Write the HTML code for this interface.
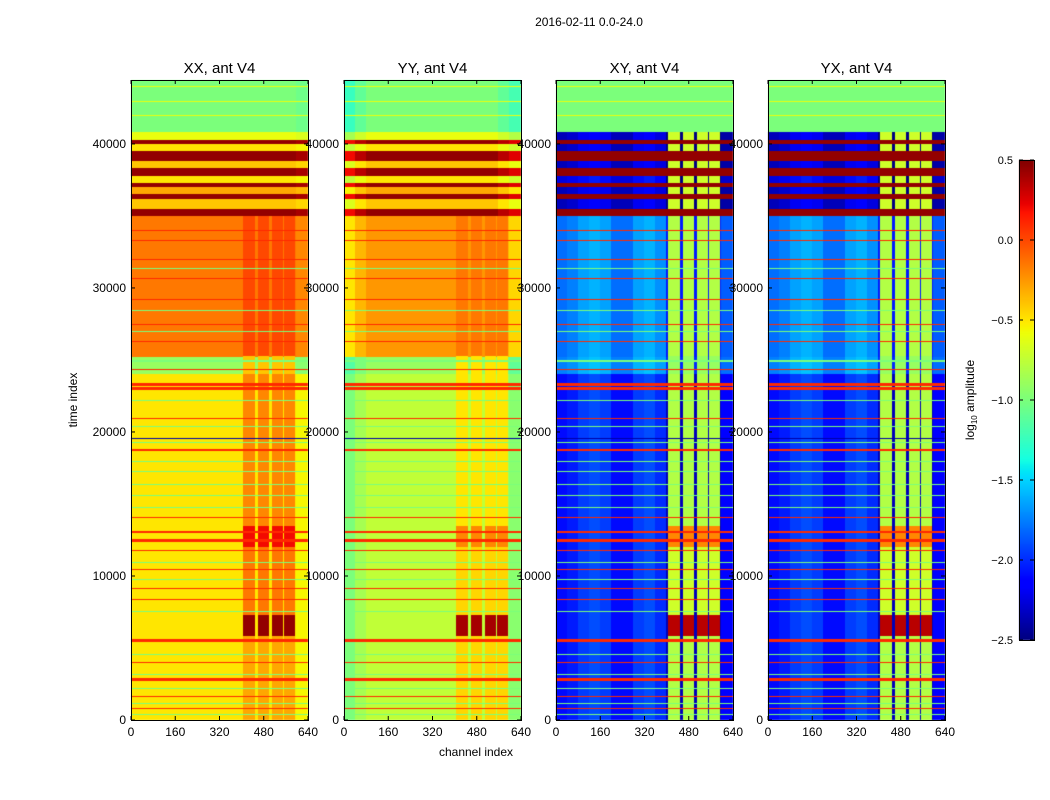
<!DOCTYPE html>
<html><head><meta charset="utf-8"><style>
body{margin:0;background:#fff;width:1050px;height:800px;overflow:hidden;font-family:"Liberation Sans",sans-serif}
#wrap{position:relative;width:1050px;height:800px}
canvas,svg{position:absolute;left:0;top:0}
</style></head><body>
<div id="wrap">
<canvas id="cv" width="1050" height="800"></canvas>
<svg id="sv" width="1050" height="800"></svg>
</div>
<script>
// time segments (thousands of time index)
const segT0 = [0,24.0,25.2,35.0,35.5,36.2,36.5,37.0,37.3,37.8,38.3,38.8,39.5,40.0,40.3,40.8];
const xxSeg = [-0.5,-0.9,-0.15,0.45,-0.4,0.45,-0.3,0.45,-0.5,0.45,-0.4,0.45,-0.5,0.45,-0.6,-1.0];
const yySeg = [-0.75,-0.9,-0.25,0.45,-0.4,0.45,-0.3,0.45,-0.5,0.45,-0.4,0.45,-0.5,0.45,-0.6,-1.0];
const xySeg = [-2.05,-1.7,-1.75,0.45,-2.3,0.45,-2.3,0.45,-2.2,0.45,-2.3,0.45,-2.3,0.45,-2.3,-1.0];
const yxSeg = [-2.05,-1.7,-1.75,0.45,-2.3,0.45,-2.3,0.45,-2.2,0.45,-2.3,0.45,-2.3,0.45,-2.3,-1.0];
// RFI stripe channels
const stripeC0 = [405,458,508,557];
const stripeC1 = [452,502,548,597];
const stripeT0 = [0,5.8,7.3,12.0,13.5,24.0,25.3,35.0,35.5,40.8];
const xxStripe = [-0.3,0.45,-0.15,0.2,-0.2,-0.4,0.0,null,null,null];
const yyStripe = [-0.45,0.4,-0.45,-0.2,-0.5,-0.5,-0.15,null,null,null];
const xyStripe = [-0.8,0.35,-0.7,-0.2,-0.8,-0.9,-0.8,null,-0.7,null];
const yxStripe = [-0.8,0.35,-0.7,-0.2,-0.8,-0.9,-0.8,null,-0.7,null];
// channel shape (bins of 40 channels)
const xxCol = [0,0,0,0,0,0,0,0,0,0,0,0,0,0,0,-0.05];
const yyCol = [-0.25,-0.1,0,0,0,0,0,0,0,0,0,0,0,0,-0.1,-0.2];
const xyCol = [-0.05,0,0.1,0.15,0.1,-0.05,-0.05,0.1,0.15,0.05,-0.3,-0.3,-0.3,-0.3,-0.3,-0.1];
// horizontal lines (time in thousands, value)
const lineT = [0.8,1.7,2.9,4.0,5.6,8.4,9.2,10.5,11.8,12.6,13.1,14.1,18.8,21.0,23.1,23.4,24.4,26.3,27.5,29.2,30.7,32.0,33.3,34.0,
 0.4,1.2,2.2,3.2,4.6,7.6,9.8,11.0,14.8,15.6,16.4,17.3,18.0,19.3,20.4,22.2,25.0,27.0,28.5,31.4,42.0,43.0,44.0,19.6];
const lineV = [0.1,0.1,0.1,0.1,0.1,0.1,0.1,0.1,0.1,0.1,0.1,0.1,0.1,0.1,0.1,0.1,0.1,0.1,0.1,0.1,0.1,0.1,0.1,0.1,
 -1.0,-1.0,-1.0,-1.0,-1.0,-1.0,-1.0,-1.0,-1.0,-1.0,-1.0,-1.0,-1.0,-1.0,-1.0,-1.0,-1.0,-1.0,-1.0,-1.0,-0.6,-0.6,-0.6,-2.4];
const lineH = [1,1,3,1,3,1,1,1,1,3,2,1,2,1,3,3,1,1,1,1,1,1,1,1,
 1,1,1,1,1,1,1,1,1,1,1,1,1,1,1,1,2,1,1,1,1,1,1,1];
const titles = ["XX, ant V4","YY, ant V4","XY, ant V4","YX, ant V4"];
const xTicks = [0,160,320,480,640];
const yTicks = [0,10000,20000,30000,40000];
const cbTicks = [0.5,0.0,-0.5,-1.0,-1.5,-2.0,-2.5];

const panelX = [131,344,556,768], PW=177, PT=80, PH=640, TMAX=44.44, VMIN=-2.5, VMAX=0.5;
const panels = [[xxSeg,xxStripe,xxCol],[yySeg,yyStripe,yyCol],[xySeg,xyStripe,xyCol],[yxSeg,yxStripe,xyCol]];
const yScale = t => PT+PH - t/TMAX*PH;
const xScale = (p,c) => panelX[p] + c/640*PW;
function interp(pts,x){for(let i=1;i<pts.length;i++){if(x<=pts[i][0]){const a=pts[i-1],b=pts[i];return a[1]+(b[1]-a[1])*(x-a[0])/(b[0]-a[0]);}}return pts[pts.length-1][1];}
function jet(v){let f=Math.max(0,Math.min(1,(v-VMIN)/(VMAX-VMIN)));
 const r=interp([[0,0],[0.35,0],[0.66,1],[0.89,1],[1,0.5]],f),g=interp([[0,0],[0.125,0],[0.375,1],[0.64,1],[0.91,0],[1,0]],f),b=interp([[0,0.5],[0.11,1],[0.34,1],[0.65,0],[1,0]],f);
 return `rgb(${Math.round(r*255)},${Math.round(g*255)},${Math.round(b*255)})`;}
function segIdx(arr,t){let k=0;for(let i=0;i<arr.length;i++)if(t>=arr[i])k=i;return k;}
const ctx=document.getElementById('cv').getContext('2d');
for(let p=0;p<4;p++){
 const [seg,str,col]=panels[p];
 for(let py=0;py<PH;py++){
  const t=(PH-py-0.5)/PH*TMAX;
  const base=seg[segIdx(segT0,t)];
  const si=segIdx(stripeT0,t);
  const sv=str[si];
  for(let c=0;c<640;c+=5){
   let v=base;
   const cb=col[Math.floor(c/40)];
   if(p>=2){ if(base<-1.5) v+=cb; } else v+=cb;
   if(sv!==null){for(let s=0;s<stripeC0.length;s++){if(c+2.5>=stripeC0[s]&&c+2.5<stripeC1[s]){v=(si===8)?Math.max(base,sv):sv;}}}
   ctx.fillStyle=jet(v);
   const x0=xScale(p,c),x1=xScale(p,c+5);
   ctx.fillRect(Math.floor(x0),PT+py,Math.ceil(x1)-Math.floor(x0),1);
  }
 }
 for(let i=0;i<lineT.length;i++){ctx.fillStyle=jet(lineV[i]);ctx.fillRect(panelX[p],Math.round(yScale(lineT[i])),PW,lineH[i]);}
}
// colorbar
for(let y=0;y<480;y++){ctx.fillStyle=jet(VMAX-(y+0.5)/480*(VMAX-VMIN));ctx.fillRect(1019,160+y,15,1);}

const sv=document.getElementById('sv');const NS='http://www.w3.org/2000/svg';
function mk(tag,attrs,txt){const e=document.createElementNS(NS,tag);for(const k in attrs)e.setAttribute(k,attrs[k]);if(txt!==undefined)e.textContent=txt;sv.appendChild(e);return e;}
let e;
e=mk('text',{x:589,y:26,'font-size':12,'text-anchor':'middle'},'2016-02-11 0.0-24.0');


for(let p=0;p<4;p++){
 const x0=panelX[p];
 e=mk('rect',{x:x0+0.5,y:PT+0.5,width:PW,height:PH,fill:'none',stroke:'#000','stroke-width':1});
 
 
 e=mk('text',{x:x0+PW/2,y:73,'font-size':15,'text-anchor':'middle'},titles[p]);
 
 
 xTicks.forEach(v=>{const x=xScale(p,v);
  mk('line',{x1:x,x2:x,y1:PT+PH,y2:PT+PH-4,stroke:'#000'});mk('line',{x1:x,x2:x,y1:PT,y2:PT+4,stroke:'#000'});
  e=mk('text',{x:x,y:736,'font-size':12,'text-anchor':'middle'},String(v));
  
  });
 yTicks.forEach(v=>{const y=yScale(v/1000);
  mk('line',{x1:x0,x2:x0+4,y1:y,y2:y,stroke:'#000'});mk('line',{x1:x0+PW,x2:x0+PW-4,y1:y,y2:y,stroke:'#000'});
  e=mk('text',{x:x0-5,y:y+4,'font-size':12,'text-anchor':'end'},String(v));
  
  });
}
e=mk('text',{x:476,y:756,'font-size':12,'text-anchor':'middle'},'channel index');


e=mk('text',{x:77,y:400,'font-size':12,'text-anchor':'middle',transform:'rotate(-90 77 400)'},'time index');


e=mk('rect',{x:1019.5,y:160.5,width:15,height:480,fill:'none',stroke:'#000'});


cbTicks.forEach(v=>{const y=160+(VMAX-v)/(VMAX-VMIN)*480;
 mk('line',{x1:1019,x2:1023,y1:y,y2:y,stroke:'#000'});mk('line',{x1:1034,x2:1030,y1:y,y2:y,stroke:'#000'});
 e=mk('text',{x:1013,y:y+4,'font-size':11,'text-anchor':'end'},v.toFixed(1).replace('-','\u2212'));
 
 });
e=mk('text',{x:974,y:400,'font-size':12,'text-anchor':'middle',transform:'rotate(-90 974 400)'});


e.innerHTML='log<tspan font-size="8" dy="3">10</tspan><tspan dy="-3"> amplitude</tspan>';
</script>
</body></html>
